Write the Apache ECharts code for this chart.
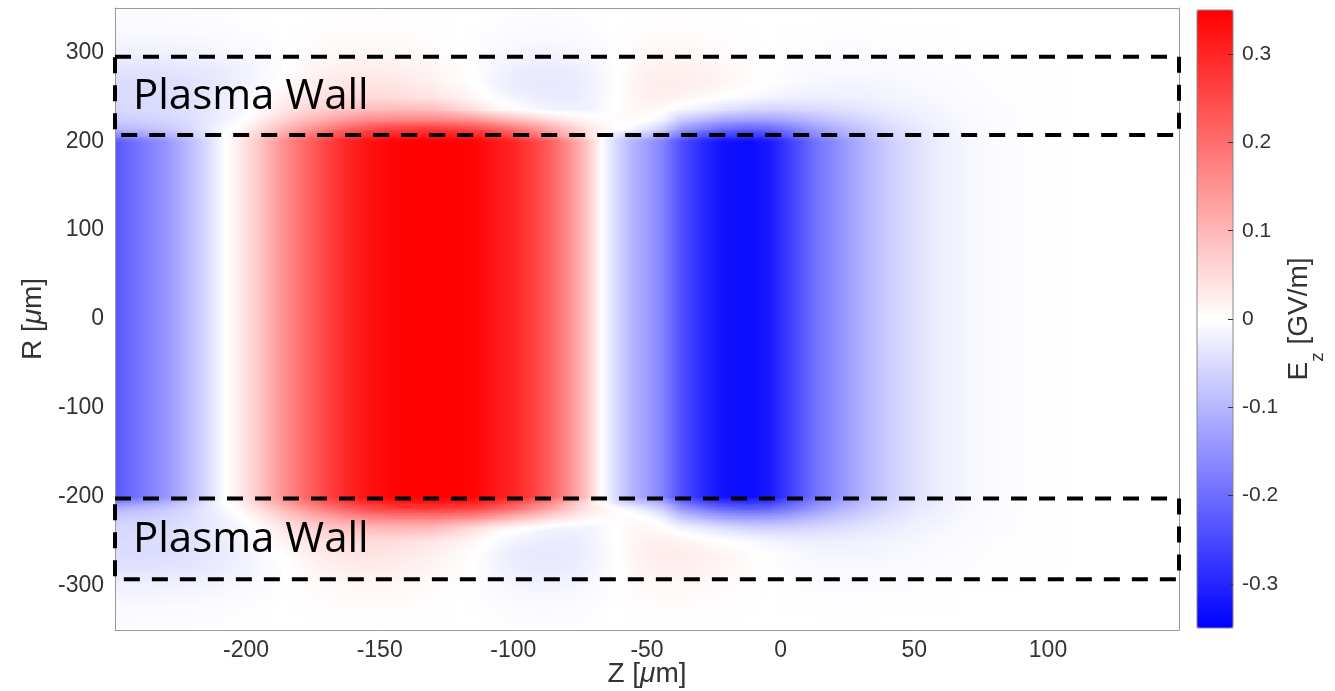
<!DOCTYPE html>
<html><head><meta charset="utf-8">
<script src="https://cdn.jsdelivr.net/npm/echarts@6/dist/echarts.min.js"></script>
<style>html,body{margin:0;padding:0;background:#fff}#c{width:1335px;height:691px}</style>
</head><body><div id="c"></div>
<script>
// ---- data ----
const zNodes = [-249,-240,-230,-220,-213,-208,-202,-195,-187,-180,-172,-163,-155,-145,-130,-115,-107,-100,-92,-85,-78,-72,-67,-62,-56,-50,-44,-38,-30,-22,-12,-4,4,12,20,30,40,50,60,70,80,95,115,149];
// Ez inside the channel (|R| <= 200), same for every R
const coreProfile = [-0.23,-0.19,-0.145,-0.085,-0.04,0,0.03,0.08,0.145,0.195,0.245,0.295,0.325,0.345,0.35,0.345,0.32,0.30,0.26,0.21,0.14,0.075,0,-0.05,-0.10,-0.135,-0.175,-0.235,-0.29,-0.325,-0.335,-0.315,-0.26,-0.20,-0.16,-0.11,-0.07,-0.042,-0.024,-0.012,-0.005,-0.002,0,0];
// Ez in the wall region, rows at |R| = wallR (same top and bottom)
const wallR = [206,214,224,236,250,265,280,300,325,350];
const wall206 = [-0.17,-0.14,-0.11,-0.065,-0.03,0,0.025,0.07,0.125,0.17,0.215,0.26,0.29,0.31,0.32,0.31,0.28,0.25,0.2,0.15,0.09,0.04,0.0,-0.04,-0.07,-0.09,-0.12,-0.19,-0.24,-0.27,-0.28,-0.265,-0.22,-0.17,-0.135,-0.095,-0.06,-0.038,-0.022,-0.011,-0.005,-0.002,0,0];
const wall214 = [-0.10,-0.09,-0.075,-0.05,-0.025,-0.008,0.01,0.045,0.09,0.13,0.17,0.21,0.24,0.26,0.27,0.25,0.22,0.19,0.15,0.11,0.07,0.035,0.02,0.005,-0.01,-0.035,-0.07,-0.13,-0.17,-0.2,-0.215,-0.205,-0.175,-0.14,-0.11,-0.08,-0.053,-0.032,-0.02,-0.01,-0.005,-0.002,0,0];
const wall224 = [-0.07,-0.065,-0.058,-0.045,-0.03,-0.018,-0.005,0.02,0.055,0.085,0.11,0.14,0.16,0.17,0.17,0.15,0.12,0.095,0.07,0.045,0.025,0.012,0.005,0.004,0.006,0.002,-0.02,-0.07,-0.095,-0.12,-0.13,-0.128,-0.115,-0.095,-0.078,-0.058,-0.04,-0.026,-0.016,-0.009,-0.004,-0.002,0,0];
const wall236 = [-0.055,-0.052,-0.048,-0.04,-0.03,-0.022,-0.012,0.005,0.03,0.05,0.065,0.08,0.09,0.095,0.09,0.045,0.015,0.003,-0.01,-0.018,-0.02,-0.018,-0.01,0.0,0.01,0.012,0.006,-0.01,-0.025,-0.04,-0.055,-0.06,-0.058,-0.052,-0.045,-0.036,-0.027,-0.018,-0.012,-0.007,-0.004,-0.002,0,0];
const wall250 = [-0.05,-0.05,-0.047,-0.04,-0.032,-0.025,-0.015,-0.002,0.015,0.03,0.04,0.048,0.05,0.048,0.035,0.012,-0.005,-0.017,-0.025,-0.028,-0.027,-0.02,-0.01,0.0,0.012,0.02,0.022,0.018,0.01,0.002,-0.008,-0.015,-0.02,-0.022,-0.022,-0.02,-0.016,-0.012,-0.008,-0.005,-0.003,-0.001,0,0];
const wall265 = [-0.048,-0.048,-0.046,-0.04,-0.033,-0.028,-0.02,-0.01,0.002,0.015,0.028,0.035,0.037,0.035,0.022,0.002,-0.015,-0.027,-0.032,-0.033,-0.03,-0.022,-0.012,-0.002,0.012,0.022,0.026,0.026,0.022,0.015,0.006,-0.002,-0.008,-0.012,-0.014,-0.014,-0.012,-0.009,-0.006,-0.004,-0.002,-0.001,0,0];
const wall280 = [-0.04,-0.04,-0.038,-0.034,-0.03,-0.025,-0.02,-0.012,-0.003,0.008,0.018,0.024,0.026,0.024,0.015,0.0,-0.014,-0.024,-0.028,-0.028,-0.025,-0.018,-0.01,-0.002,0.01,0.018,0.022,0.022,0.019,0.013,0.006,0.0,-0.005,-0.008,-0.009,-0.009,-0.008,-0.006,-0.004,-0.003,-0.002,-0.001,0,0];
const wall300 = [-0.02,-0.02,-0.019,-0.017,-0.015,-0.012,-0.01,-0.006,-0.002,0.003,0.008,0.011,0.012,0.011,0.006,-0.002,-0.008,-0.013,-0.015,-0.015,-0.013,-0.009,-0.005,-0.001,0.005,0.009,0.011,0.011,0.009,0.006,0.003,0.0,-0.002,-0.004,-0.004,-0.004,-0.004,-0.003,-0.002,-0.001,-0.001,0,0,0];
const wall325 = [-0.008,-0.008,-0.007,-0.006,-0.005,-0.004,-0.003,-0.002,0,0.001,0.003,0.004,0.004,0.004,0.002,-0.001,-0.003,-0.005,-0.006,-0.006,-0.005,-0.004,-0.002,0,0.002,0.003,0.004,0.004,0.003,0.002,0.001,0,-0.001,-0.001,-0.002,-0.002,-0.001,-0.001,-0.001,0,0,0,0,0];
const wall350 = [-0.003,-0.003,-0.003,-0.002,-0.002,-0.002,-0.001,-0.001,0,0,0.001,0.001,0.001,0.001,0.001,0,-0.001,-0.002,-0.002,-0.002,-0.002,-0.001,-0.001,0,0.001,0.001,0.001,0.001,0.001,0.001,0,0,0,0,-0.001,-0.001,0,0,0,0,0,0,0,0];
const coreEdgeR = 200;
const xTicks = [-200,-150,-100,-50,0,50,100];
const yTicks = [-300,-200,-100,0,100,200,300];
const cbTicks = [-0.3,-0.2,-0.1,0,0.1,0.2,0.3];
const wallBoxes = [[207,295],[-293,-202]];
const wallLabel = 'Plasma Wall';
const cMin = -0.35, cMax = 0.35;

// ---- table built from the arrays ----
const wallRows = [wall206,wall214,wall224,wall236,wall250,wall265,wall280,wall300,wall325,wall350];
const rowsR = [], rowsV = [];
for (let k = wallR.length - 1; k >= 0; k--) { rowsR.push(-wallR[k]); rowsV.push(wallRows[k]); }
rowsR.push(-coreEdgeR); rowsV.push(coreProfile);
rowsR.push(coreEdgeR); rowsV.push(coreProfile);
for (let k = 0; k < wallR.length; k++) { rowsR.push(wallR[k]); rowsV.push(wallRows[k]); }
const cells = [];
for (let j = 0; j < rowsR.length - 1; j++) {
  for (let i = 0; i < zNodes.length - 1; i++) {
    cells.push([zNodes[i], zNodes[i+1], rowsR[j], rowsR[j+1],
      rowsV[j][i], rowsV[j][i+1], rowsV[j+1][i], rowsV[j+1][i+1]]);
  }
}

function col(v) {
  v = Math.max(cMin, Math.min(cMax, v));
  if (v >= 0) { const c = Math.round(255 * (1 - v / cMax)); return 'rgb(255,' + c + ',' + c + ')'; }
  const c = Math.round(255 * (1 - v / cMin)); return 'rgb(' + c + ',' + c + ',255)';
}
function grad(l, r) {
  const stops = [{offset: 0, color: col(l)}];
  if (l * r < 0) stops.push({offset: l / (l - r), color: '#ffffff'});
  stops.push({offset: 1, color: col(r)});
  return {type: 'linear', x: 0, y: 0, x2: 1, y2: 0, colorStops: stops, global: false};
}
function renderCell(params, api) {
  const z0 = api.value(0), z1 = api.value(1), r0 = api.value(2), r1 = api.value(3);
  const a = api.value(4), b = api.value(5), c = api.value(6), d = api.value(7);
  const tl = api.coord([z0, r1]), br = api.coord([z1, r0]);
  const x = tl[0], y = tl[1], w = br[0] - x, h = br[1] - y;
  const children = [];
  const n = (a === c && b === d) ? 1 : Math.max(1, Math.ceil(h / 2));
  for (let k = 0; k < n; k++) {
    const t = (k + 0.5) / n;
    const lv = c + (a - c) * t, rv = d + (b - d) * t;
    children.push({type: 'rect', shape: {x: x, y: y + h * k / n, width: w + 0.7, height: h / n + 0.7},
      style: {fill: grad(lv, rv)}, silent: true});
  }
  return {type: 'group', children: children};
}

const lab = {fontFamily: 'Liberation Sans', color: '#333'};
const frame = {show: true, onZero: false, lineStyle: {color: '#999', width: 1}};
const chart = echarts.init(document.getElementById('c'), null, {renderer: 'canvas'});
chart.setOption({
  animation: false,
  backgroundColor: '#ffffff',
  grid: [
    {left: 115, right: 156, top: 8, bottom: 61, outerBoundsMode: 'none', containLabel: false},
    {left: 1197, width: 36, top: 10, height: 618, outerBoundsMode: 'none', containLabel: false,
     show: true, borderColor: '#888', borderWidth: 1, backgroundColor: 'transparent', z: 10}
  ],
  xAxis: [
    {gridIndex: 0, type: 'value', min: -249, max: 149, position: 'bottom', z: 10,
     axisLine: frame, axisTick: {show: false}, splitLine: {show: false},
     axisLabel: Object.assign({fontSize: 23, margin: 9, customValues: xTicks}, lab),
     name: 'Z [{it|μ}m]', nameLocation: 'middle', nameGap: 30, nameMoveOverlap: false,
     nameTextStyle: Object.assign({fontSize: 28, rich: {it: {fontSize: 28, fontStyle: 'italic', fontFamily: 'Liberation Sans', color: '#333'}}}, lab)},
    {gridIndex: 0, type: 'value', min: -249, max: 149, position: 'top', z: 10,
     axisLine: frame, axisTick: {show: false}, axisLabel: {show: false}, splitLine: {show: false}},
    {gridIndex: 1, type: 'value', min: 0, max: 1, show: false, axisLine: {onZero: false}}
  ],
  yAxis: [
    {gridIndex: 0, type: 'value', min: -350, max: 350, position: 'left', z: 10,
     axisLine: frame, axisTick: {show: false}, splitLine: {show: false},
     axisLabel: Object.assign({fontSize: 23, margin: 11, customValues: yTicks}, lab),
     name: 'R [{it|μ}m]', nameLocation: 'middle', nameGap: 66, nameRotate: 90,
     nameTextStyle: Object.assign({fontSize: 28, rich: {it: {fontSize: 28, fontStyle: 'italic', fontFamily: 'Liberation Sans', color: '#333'}}}, lab)},
    {gridIndex: 0, type: 'value', min: -350, max: 350, position: 'right', z: 10,
     axisLine: frame, axisTick: {show: false}, axisLabel: {show: false}, splitLine: {show: false}},
    {gridIndex: 1, type: 'value', min: cMin, max: cMax, position: 'right', z: 11,
     axisLine: {show: false, onZero: false}, splitLine: {show: false},
     axisTick: {show: true, inside: true, length: 5, customValues: cbTicks, lineStyle: {color: '#333'}},
     axisLabel: Object.assign({fontSize: 21, margin: 9, customValues: cbTicks}, lab),
     name: '{e|E}{s|z}{t| [GV/m]}', nameLocation: 'middle', nameGap: 52, nameRotate: 90,
     nameTextStyle: Object.assign({fontSize: 28, rich: {
       e: {fontSize: 28, lineHeight: 30, verticalAlign: 'top', fontFamily: 'Liberation Sans', color: '#333'},
       s: {fontSize: 19, lineHeight: 20, padding: [23, 0, 0, 0], verticalAlign: 'top', fontFamily: 'Liberation Sans', color: '#333'},
       t: {fontSize: 28, lineHeight: 30, verticalAlign: 'top', fontFamily: 'Liberation Sans', color: '#333'}
     }}, lab)}
  ],
  visualMap: {
    type: 'continuous', min: cMin, max: cMax, seriesIndex: 2, calculable: false,
    left: 1197, top: 10, itemWidth: 36, itemHeight: 618, padding: 0, hoverLink: false,
    inRange: {color: ['#0000ff', '#ffffff', '#ff0000']}
  },
  series: [
    {type: 'custom', coordinateSystem: 'cartesian2d', xAxisIndex: 0, yAxisIndex: 0,
     data: cells, renderItem: renderCell, clip: true, silent: true, progressive: 0, z: 1,
     encode: {x: [0, 1], y: [2, 3]}},
    {type: 'line', xAxisIndex: 0, yAxisIndex: 0, data: [], z: 5, clip: false, silent: true,
     markArea: {silent: true, z: 12,
       itemStyle: {color: 'rgba(0,0,0,0)', borderColor: '#000', borderWidth: 4, borderType: [16, 12]},
       label: {show: true, position: 'insideLeft', distance: 20, offset: [0, 1], fontFamily: 'Open Sans', fontSize: 42, color: '#000'},
       data: wallBoxes.map(b => [{name: wallLabel, coord: [-249, b[1]]}, {coord: [149, b[0]]}])}},
    {type: 'scatter', xAxisIndex: 2, yAxisIndex: 2, data: [], silent: true}
  ]
});
</script></body></html>
